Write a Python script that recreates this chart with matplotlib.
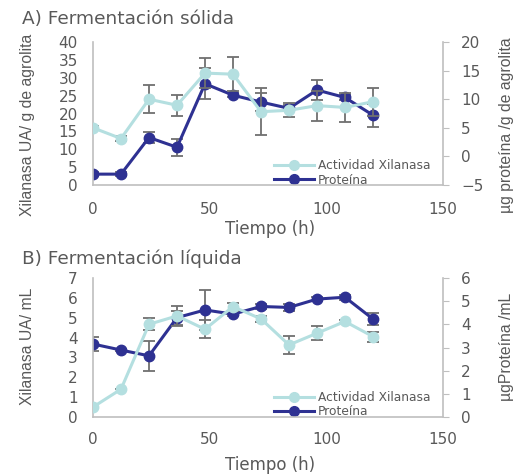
import matplotlib.pyplot as plt
from matplotlib.lines import Line2D

plt.rcParams['font.family'] = ['DejaVu Sans']

tiempo = [0, 12, 24, 36, 48, 60, 72, 84, 96, 108, 120]

# A) Fermentación sólida
xil_a = [16.0, 13.0, 24.0, 22.3, 31.3, 31.0, 20.5, 20.9, 22.2, 21.7, 23.3]
xil_a_err = [0.6, 0.6, 3.9, 2.9, 4.2, 4.8, 6.5, 1.9, 4.2, 4.0, 3.9]
prot_a = [-3.1, -3.1, 3.3, 1.6, 12.7, 10.7, 9.5, 8.4, 11.6, 10.3, 7.2]
prot_a_err = [0.4, 0.4, 0.9, 1.5, 2.7, 0.4, 1.6, 0.5, 1.75, 0.5, 2.0]

# B) Fermentación líquida
xil_b = [0.5, 1.4, 4.67, 5.09, 4.42, 5.56, 4.94, 3.63, 4.22, 4.81, 4.05]
xil_b_err = [0.0, 0.0, 0.3, 0.5, 0.45, 0.2, 0.15, 0.44, 0.35, 0.1, 0.25]
prot_b = [3.15, 2.89, 2.64, 4.29, 4.62, 4.44, 4.77, 4.73, 5.09, 5.17, 4.23]
prot_b_err = [0.29, 0.05, 0.65, 0.3, 0.87, 0.1, 0.1, 0.15, 0.1, 0.1, 0.28]

c_xil = '#b4dfe0'
c_prot = '#2e3192'
c_txt = '#595959'
c_ax = '#bfbfbf'
c_err = '#707070'

fig = plt.figure(figsize=(5.21, 4.75), dpi=100)
W, H = 521, 475


def panel(top, bottom, xil, xil_err, prot, prot_err, ylim_l, yticks_l, ylim_r, yticks_r,
          ylab_l, ylab_r, ylab_y, titulo, ytit, yxlab, xpad):
    ax = fig.add_axes([93 / W, 1 - bottom / H, 350 / W, (bottom - top) / H])
    ax2 = ax.twinx()
    ax.errorbar(tiempo, xil, yerr=xil_err, color=c_xil, lw=2.2, marker='o', ms=7.5,
                ecolor=c_err, elinewidth=1.3, capsize=4, capthick=1.3, zorder=3)
    ax2.errorbar(tiempo, prot, yerr=prot_err, color=c_prot, lw=2.2, marker='o', ms=7.5,
                 ecolor=c_err, elinewidth=1.3, capsize=4, capthick=1.3, zorder=4)
    ax.set_xlim(0, 150)
    ax.set_xticks([0, 50, 100, 150])
    ax.set_ylim(*ylim_l)
    ax.set_yticks(yticks_l)
    ax2.set_ylim(*ylim_r)
    ax2.set_yticks(yticks_r)
    for a in (ax, ax2):
        for s in a.spines.values():
            s.set_color(c_ax)
            s.set_linewidth(1.2)
        a.spines['top'].set_visible(False)
        a.tick_params(colors=c_txt, labelsize=11, length=0)
    ax.spines['right'].set_visible(False)
    ax2.spines['left'].set_visible(False)
    ax2.spines['bottom'].set_visible(False)
    ax2.tick_params(axis='y', length=4, color=c_ax, pad=9)
    ax.tick_params(axis='y', pad=11)
    ax.tick_params(axis='x', pad=xpad)
    fig.text(28 / W, 1 - ylab_y[0] / H, ylab_l, rotation=90, color=c_txt,
             fontsize=11.3, family='Liberation Sans', ha='center', va='center')
    fig.text(506 / W, 1 - ylab_y[1] / H, ylab_r, rotation=90, color=c_txt,
             fontsize=11.3, family='Liberation Sans', ha='center', va='center')
    fig.text(270 / W, 1 - yxlab / H, 'Tiempo (h)', color=c_txt, fontsize=12,
             ha='center', va='center')
    fig.text(22 / W, 1 - ytit / H, titulo, color=c_txt, fontsize=13.3,
             ha='left', va='center')
    handles = [Line2D([], [], color=c_xil, lw=2.2, marker='o', ms=7),
               Line2D([], [], color=c_prot, lw=2.2, marker='o', ms=7)]
    ax2.legend(handles, ['Actividad Xilanasa', 'Proteína'], loc='lower right',
               bbox_to_anchor=(0.985, -0.062), frameon=False, fontsize=8.8,
               labelcolor=c_txt, handlelength=3.3, handletextpad=0.3,
               labelspacing=0.1, borderaxespad=0.2)
    ax.set_zorder(ax2.get_zorder() + 1)
    ax.patch.set_visible(False)
    return ax, ax2


panel(42, 185, xil_a, xil_a_err, prot_a, prot_a_err,
      (0, 40), range(0, 41, 5), (-5, 20), range(-5, 21, 5),
      'Xilanasa UA/ g de agrolita', 'µg proteína /g de agrolita', (125, 125),
      'A) Fermentación sólida', 19, 229, 12)
panel(278, 417, xil_b, xil_b_err, prot_b, prot_b_err,
      (0, 7), range(0, 8), (0, 6), range(0, 7),
      'Xilanasa UA/ mL', 'µgProteína /mL', (346, 347),
      'B) Fermentación líquida', 259, 465, 11)

fig.savefig('out.png', dpi=100)
